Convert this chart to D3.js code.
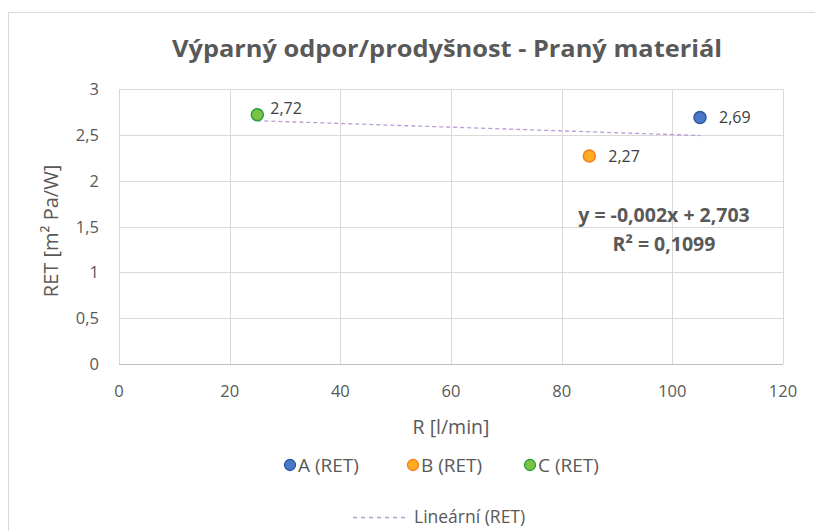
<!DOCTYPE html>
<html>
<head>
<meta charset="utf-8">
<script src="https://cdn.jsdelivr.net/npm/d3@7"></script>
<style>
  body { margin: 0; background: #fff; }
  text { font-family: "Open Sans", "Noto Sans", sans-serif; }
</style>
</head>
<body>
<div id="chart"></div>
<script>
// data
const seriesNames = ["A (RET)", "B (RET)", "C (RET)"];
const seriesX = [105, 85, 25];
const seriesY = [2.69, 2.27, 2.72];
const seriesLabels = ["2,69", "2,27", "2,72"];
const fills = ["#4a78c8", "#ffad1f", "#7cc142"];
const strokes = ["#2f55a0", "#f47d20", "#22a03c"];
const xTicks = [0, 20, 40, 60, 80, 100, 120];
const yTicks = [0, 0.5, 1, 1.5, 2, 2.5, 3];

const width = 815, height = 531;
const svg = d3.select("#chart").append("svg")
    .attr("width", width)
    .attr("height", height);

// chart border
svg.append("rect")
    .attr("x", 8.5).attr("y", 12.5)
    .attr("width", 830).attr("height", 540)
    .attr("fill", "none").attr("stroke", "#d9d9d9");

const x = d3.scaleLinear().domain([0, 120]).range([119, 783]);
const y = d3.scaleLinear().domain([0, 3]).range([364, 89]);
const fmt = d => String(d).replace(".", ",");

// gridlines
svg.append("g").selectAll("line.h").data(yTicks).join("line")
    .attr("x1", x(0)).attr("x2", x(120))
    .attr("y1", d => Math.round(y(d)) + 0.5).attr("y2", d => Math.round(y(d)) + 0.5)
    .attr("stroke", d => d === 0 ? "#bfbfbf" : "#d9d9d9");
svg.append("g").selectAll("line.v").data(xTicks).join("line")
    .attr("y1", y(0)).attr("y2", y(3))
    .attr("x1", d => Math.round(x(d)) + 0.5).attr("x2", d => Math.round(x(d)) + 0.5)
    .attr("stroke", "#d9d9d9");

// tick labels
svg.append("g").selectAll("text").data(yTicks).join("text")
    .attr("x", 99).attr("y", d => y(d) + 6)
    .attr("text-anchor", "end")
    .attr("font-size", 16.5).attr("fill", "#595959")
    .text(fmt);
svg.append("g").selectAll("text").data(xTicks).join("text")
    .attr("x", d => x(d)).attr("y", 397)
    .attr("text-anchor", "middle")
    .attr("font-size", 16.5).attr("fill", "#595959")
    .text(fmt);

// axis titles
svg.append("text")
    .attr("x", 451).attr("y", 434)
    .attr("text-anchor", "middle")
    .attr("font-size", 19.5).attr("fill", "#595959")
    .text("R [l/min]");
svg.append("text")
    .attr("transform", "translate(58,231) rotate(-90)")
    .attr("text-anchor", "middle")
    .attr("font-size", 20).attr("fill", "#595959")
    .text("RET [m² Pa/W]");

// title
svg.append("text")
    .attr("x", 447).attr("y", 57)
    .attr("text-anchor", "middle")
    .attr("font-size", 23).attr("font-weight", "bold").attr("fill", "#595959")
    .attr("textLength", 550).attr("lengthAdjust", "spacingAndGlyphs")
    .text("Výparný odpor/prodyšnost - Praný materiál");

// linear trend (least squares)
const mx = d3.mean(seriesX), my = d3.mean(seriesY);
const slope = d3.sum(seriesX, (v, i) => (v - mx) * (seriesY[i] - my)) /
    d3.sum(seriesX, v => (v - mx) ** 2);
const icpt = my - slope * mx;
const [x0, x1] = d3.extent(seriesX);
svg.append("line")
    .attr("x1", x(x0)).attr("y1", y(icpt + slope * x0))
    .attr("x2", x(x1)).attr("y2", y(icpt + slope * x1))
    .attr("stroke", "#b99bd6").attr("stroke-width", 1.3)
    .attr("stroke-dasharray", "4,3");

// points
svg.append("g").selectAll("circle").data(seriesX).join("circle")
    .attr("cx", d => x(d)).attr("cy", (d, i) => y(seriesY[i]))
    .attr("r", 6)
    .attr("fill", (d, i) => fills[i]).attr("stroke", (d, i) => strokes[i])
    .attr("stroke-width", 1.5);

// data labels
const labelDx = [19, 19, 13], labelDy = [6, 6, -1];
svg.append("g").selectAll("text").data(seriesX).join("text")
    .attr("x", (d, i) => x(d) + labelDx[i])
    .attr("y", (d, i) => y(seriesY[i]) + labelDy[i])
    .attr("font-size", 16).attr("fill", "#404040")
    .text((d, i) => seriesLabels[i]);

// equation
svg.append("text")
    .attr("x", 664).attr("y", 222).attr("text-anchor", "middle")
    .attr("font-size", 19.5).attr("font-weight", "bold").attr("fill", "#595959")
    .text("y = -0,002x + 2,703");
svg.append("text")
    .attr("x", 664).attr("y", 251).attr("text-anchor", "middle")
    .attr("font-size", 19.5).attr("font-weight", "bold").attr("fill", "#595959")
    .text("R² = 0,1099");

// legend
const legX = [290, 413, 530];
const leg = svg.append("g").selectAll("g").data(seriesNames).join("g")
    .attr("transform", (d, i) => `translate(${legX[i]},465)`);
leg.append("circle").attr("r", 5.5)
    .attr("fill", (d, i) => fills[i]).attr("stroke", (d, i) => strokes[i])
    .attr("stroke-width", 1.3);
leg.append("text").attr("x", 8).attr("y", 6.5)
    .attr("font-size", 19).attr("fill", "#595959")
    .text(d => d);

svg.append("line")
    .attr("x1", 353).attr("x2", 407).attr("y1", 517.5).attr("y2", 517.5)
    .attr("stroke", "#b99bd6").attr("stroke-width", 1.3)
    .attr("stroke-dasharray", "4,4");
svg.append("text")
    .attr("x", 414).attr("y", 523)
    .attr("font-size", 17.5).attr("fill", "#595959")
    .text("Lineární (RET)");
</script>
</body>
</html>
